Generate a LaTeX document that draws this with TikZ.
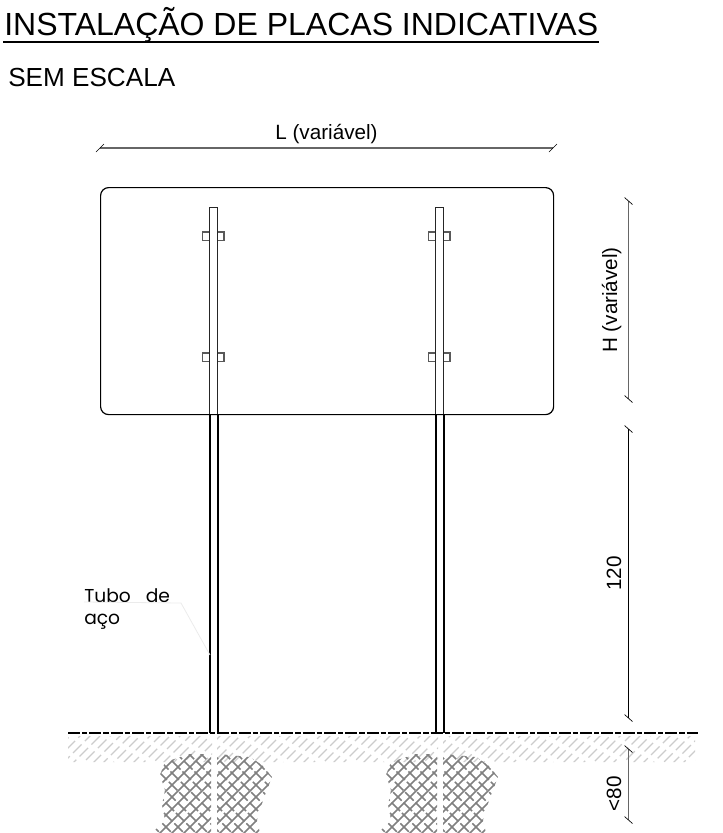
\documentclass[tikz,border=0pt]{standalone}
\usepackage{fontspec}
\setmainfont{Liberation Sans}
\newfontfamily\cadfont{Poppins}
\usetikzlibrary{positioning}
\usetikzlibrary{calc}

\tikzset{
  dimline/.style={draw=black!60, line width=0.8pt},
  dimtick/.style={draw=black, line width=0.5pt},
  postline/.style={draw=black, line width=1.5pt},
  backline/.style={draw=black!85, line width=0.7pt},
  clipbox/.style={draw=black!65, line width=0.8pt},
  lettering/.style={inner sep=0pt, font=\fontsize{15.5}{18}\selectfont},
  soilhatch/.style={draw=black!20, line width=1pt},
  rockhatch/.style={draw=black!50, line width=1.1pt},
}

\begin{document}
\begin{tikzpicture}[x=0.75pt, y=-0.75pt]
  \useasboundingbox (0,0) rectangle (723,833);

  % headings
  \node [anchor=base west, inner sep=0pt, font=\fontsize{24}{28}\selectfont] (title) at (4,35) {INSTALAÇÃO DE PLACAS INDICATIVAS};
  \draw [line width=1.7pt] ($(title.base west)+(-1,7)$) -- ($(title.base east)+(1,7)$);
  \node [anchor=base west, inner sep=0pt, font=\fontsize{19.6}{22}\selectfont] (scalenote) at (8,86) {SEM ESCALA};

  % soil under the ground line
  \begin{scope}
    \clip (68,736) rectangle (212,762) (217,736) rectangle (438,762) (443,736) rectangle (695,762);
    \foreach \x [count=\i] in {40,50,...,730}
    {
      \pgfmathsetmacro\soilphase{mod(\i*3.7,12.5)}
      \draw [soilhatch, dash pattern=on 9pt off 3.5pt, dash phase=\soilphase pt] (\x,766) -- ++(36,-36);
    }
  \end{scope}

  % concrete round each post
  \foreach \shift/\name in {0/left, 226/right}
  {
    \begin{scope}[xshift=\shift*0.75pt]
      \clip (190,754) -- (165,762) -- (160,775) -- (165,790) -- (162,805) -- (165,820) -- (152,833) -- (211,833) -- (211,754) -- cycle
            (217,754) -- (250,757) -- (262,765) -- (272,777) -- (263,800) -- (257,820) -- (260,833) -- (217,833) -- cycle;
      \foreach \x in {45,57,...,300}
      {
        \draw [rockhatch] (\x,840) -- ++(110,-110);
        \draw [rockhatch, dash pattern=on 9pt off 2pt] (\x-60,730) -- ++(110,110);
      }
    \end{scope}
  }

  % ground line
  \coordinate (groundw) at (68,733);
  \coordinate (grounde) at (698,733);
  \draw [line width=0.9pt, dash pattern=on 9pt off 1.5pt on 4pt off 1.5pt] (groundw) -- (grounde);

  % sign plate
  \node [draw, line width=0.9pt, rounded corners=6pt, minimum width=453*0.75pt, minimum height=227*0.75pt, anchor=north west, inner sep=0pt] (plate) at (100,187) {};

  % posts and their clips
  \foreach \x/\name in {209/left, 435/right}
  {
    \coordinate (\name topa) at (\x,207);
    \coordinate (\name topb) at (\x+8.5,207);
    \coordinate (\name mida) at (\x,414);
    \coordinate (\name midb) at (\x+8.5,414);
    \coordinate (\name baseb) at (\x+8.5,733);
    \coordinate (\name basea) at (\x,733);
    \draw [backline] (\name mida) -- (\name topa) -- (\name topb) -- (\name midb);
    \draw [postline] ($(\name mida)+(0.5,0)$) -- ($(\name basea)+(0.5,0)$);
    \draw [postline] ($(\name midb)+(0.5,0)$) -- ($(\name baseb)+(0.5,0)$);
    \foreach \y in {232,353}
    {
      \draw [clipbox] (\x,\y) -- (\x-6.5,\y) -- (\x-6.5,\y+8.5) -- (\x,\y+8.5);
      \draw [clipbox] (\x+8.5,\y) -- (\x+15,\y) -- (\x+15,\y+8.5) -- (\x+8.5,\y+8.5);
    }
  }

  % width of the plate
  \coordinate (lw) at (100,148);
  \coordinate (le) at (553,148);
  \draw [dimline] (lw) -- (le) node [midway, above=3pt, lettering] (lwidth) {L (variável)};
  \draw [dimtick] ($(lw)+(-4,4)$) -- ($(lw)+(4,-4)$);
  \draw [dimtick] ($(le)+(-4,4)$) -- ($(le)+(4,-4)$);

  % heights
  \coordinate (ha) at (628.5,201);
  \coordinate (hb) at (628.5,399);
  \coordinate (ta) at (628.5,429);
  \coordinate (tb) at (628.5,718);
  \coordinate (ba) at (628.5,749);
  \coordinate (bb) at (628.5,820);
  \draw [dimline] (ha) -- (hb) node [midway, left=5pt, lettering, rotate=90, anchor=south] (hheight) {H (variável)};
  \draw [dimline, draw=black] (ta) -- (tb) node [midway, left=5pt, lettering, rotate=90, anchor=south] (aboveground) {120};
  \draw [dimline] (ba) -- (bb) node [pos=0.63, left=5pt, lettering, rotate=90, anchor=south] (belowground) {<80};
  \foreach \p in {ha,hb,ta,tb,ba,bb}
    \draw [dimtick] ($(\p)+(-4,-3.5)$) -- ($(\p)+(4,3.5)$);

  % tube note
  \node [anchor=base west, inner sep=0pt, font=\cadfont\fontsize{14}{16}\selectfont] (tubonote) at (84,602) {Tubo\ \ \ de};
  \node [anchor=base west, inner sep=0pt, font=\cadfont\fontsize{14}{16}\selectfont] (aconote) at (84,624) {aço};
  \coordinate (leaderbend) at (181,603);
  \coordinate (leaderend) at (210,655);
  \draw [draw=black!8, line width=0.6pt] (tubonote.base west) -- (leaderbend) -- (leaderend);
\end{tikzpicture}
\end{document}
